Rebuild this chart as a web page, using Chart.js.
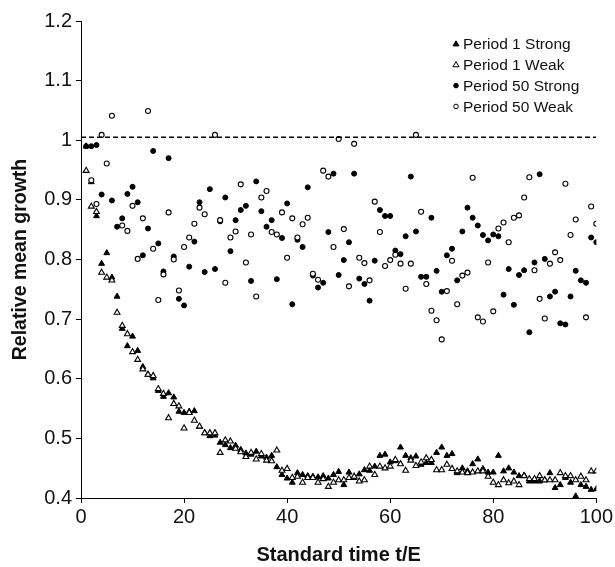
<!DOCTYPE html>
<html>
<head>
<meta charset="utf-8">
<script src="https://cdn.jsdelivr.net/npm/chart.js@4.4.0/dist/chart.umd.min.js"></script>
<style>
  body { margin: 0; background: #fff; }
</style>
</head>
<body>
<canvas id="crecimiento" width="615" height="567"></canvas>
<script>
// tiempo estandar t/E
const tiempos = [
  1, 2, 3, 4, 5, 6, 7, 8, 9, 10, 11, 12, 13, 14, 15, 16, 17, 18, 19, 20,
  21, 22, 23, 24, 25, 26, 27, 28, 29, 30, 31, 32, 33, 34, 35, 36, 37, 38, 39, 40,
  41, 42, 43, 44, 45, 46, 47, 48, 49, 50, 51, 52, 53, 54, 55, 56, 57, 58, 59, 60,
  61, 62, 63, 64, 65, 66, 67, 68, 69, 70, 71, 72, 73, 74, 75, 76, 77, 78, 79, 80,
  81, 82, 83, 84, 85, 86, 87, 88, 89, 90, 91, 92, 93, 94, 95, 96, 97, 98, 99, 100
];

const periodo1Fuerte = [
  0.990, 0.930, 0.873, 0.793, 0.811, 0.770, 0.738, 0.684, 0.655, 0.671,
  0.647, 0.620, 0.607, 0.601, 0.580, 0.570, 0.576, 0.569, 0.545, 0.543,
  0.545, 0.546, 0.520, 0.509, 0.504, 0.505, 0.493, 0.489, 0.484, 0.488,
  0.481, 0.475, 0.473, 0.478, 0.470, 0.468, 0.471, 0.452, 0.439, 0.433,
  0.426, 0.442, 0.439, 0.437, 0.436, 0.435, 0.437, 0.433, 0.439, 0.444,
  0.422, 0.443, 0.434, 0.440, 0.447, 0.446, 0.453, 0.471, 0.473, 0.460,
  0.462, 0.485, 0.471, 0.467, 0.470, 0.456, 0.459, 0.459, 0.476, 0.485,
  0.471, 0.474, 0.442, 0.450, 0.445, 0.457, 0.465, 0.449, 0.443, 0.443,
  0.471, 0.445, 0.450, 0.443, 0.437, 0.438, 0.428, 0.428, 0.428, 0.430,
  0.442, 0.417, 0.422, 0.434, 0.426, 0.403, 0.422, 0.419, 0.414, 0.415
];

const periodo1Debil = [
  0.949, 0.889, 0.880, 0.778, 0.770, 0.765, 0.711, 0.689, 0.675, 0.645,
  0.632, 0.616, 0.607, 0.605, 0.583, 0.575, 0.534, 0.558, 0.554, 0.517,
  0.543, 0.530, 0.520, 0.509, 0.509, 0.509, 0.476, 0.497, 0.495, 0.483,
  0.477, 0.469, 0.476, 0.465, 0.474, 0.463, 0.462, 0.480, 0.446, 0.449,
  0.434, 0.436, 0.426, 0.434, 0.434, 0.426, 0.432, 0.419, 0.426, 0.430,
  0.430, 0.434, 0.436, 0.428, 0.430, 0.453, 0.439, 0.453, 0.450, 0.453,
  0.464, 0.457, 0.446, 0.463, 0.454, 0.460, 0.467, 0.464, 0.447, 0.447,
  0.456, 0.449, 0.445, 0.443, 0.442, 0.443, 0.445, 0.445, 0.436, 0.426,
  0.422, 0.430, 0.425, 0.428, 0.422, 0.437, 0.432, 0.432, 0.437, 0.430,
  0.430, 0.430, 0.442, 0.437, 0.437, 0.430, 0.436, 0.430, 0.445, 0.445
];

const periodo50Fuerte = [
  0.990, 0.990, 0.992, 0.909, null,  0.899, 0.855, 0.869, 0.910, 0.922,
  0.896, 0.807, 0.852, 0.982, 0.827, 0.780, 0.970, 0.805, 0.734, 0.723,
  0.788, 0.830, 0.896, 0.779, 0.918, 0.784, 0.864, 0.904, 0.814, 0.866,
  0.883, 0.890, 0.764, 0.931, 0.881, 0.855, 0.866, 0.767, 0.836, 0.894,
  0.725, 0.833, 0.821, 0.921, 0.773, 0.753, 0.761, 0.846, 0.944, 0.774,
  0.799, 0.829, 0.944, 0.768, 0.759, 0.731, 0.798, 0.883, 0.873, 0.873,
  0.815, 0.809, 0.839, 0.939, 0.847, 0.771, 0.771, 0.870, 0.781, 0.746,
  0.807, 0.818, 0.765, 0.847, 0.887, 0.870, 0.857, 0.841, 0.832, 0.842,
  0.839, 0.741, 0.784, 0.724, 0.774, 0.782, 0.678, 0.795, 0.943, 0.801,
  0.738, 0.746, 0.693, 0.691, 0.738, 0.781, 0.765, 0.761, 0.837, 0.829
];

const periodo50Debil = [
  null,  0.933, 0.893, 1.009, 0.961, 1.041, null,  0.857, 0.848, 0.890,
  0.801, 0.869, 1.049, 0.818, 0.732, 0.775, 0.879, 0.800, 0.748, 0.821,
  0.837, 0.860, 0.887, 0.876, null,  1.009, 0.866, 0.761, 0.837, 0.847,
  0.926, 0.795, 0.842, 0.738, 0.904, 0.915, 0.846, 0.842, 0.879, 0.803,
  0.869, 0.837, 0.859, 0.870, 0.776, 0.766, 0.949, 0.939, 0.821, 1.002,
  0.851, 0.755, 0.994, 0.803, 0.794, 0.765, 0.897, 0.846, 0.789, 0.799,
  0.808, 0.793, 0.751, 0.793, 1.009, 0.880, 0.759, 0.714, 0.698, 0.666,
  0.747, 0.798, 0.725, 0.773, 0.778, 0.937, 0.703, 0.696, 0.795, 0.713,
  0.852, 0.862, 0.829, 0.870, 0.874, 0.904, 0.938, 0.782, 0.734, 0.701,
  0.793, 0.812, 0.799, 0.927, 0.841, 0.867, null,  0.703, 0.889, 0.860
];

// linea de referencia (discontinua)
const nivelReferencia = 1.005;
const extremosX = [0, 100];

const etiquetasX = ['0', '20', '40', '60', '80', '100'];
const etiquetasY = ['0.4', '0.5', '0.6', '0.7', '0.8', '0.9', '1', '1.1', '1.2'];
const nombresSeries = ['Period 1 Strong', 'Period 1 Weak', 'Period 50 Strong', 'Period 50 Weak'];

function puntos(valores) {
  const out = [];
  valores.forEach((v, i) => {
    if (v !== null) out.push({ x: tiempos[i], y: v });
  });
  return out;
}

const fuente = '"Liberation Sans", Arial, Helvetica, sans-serif';

// leyenda dibujada dentro del area (arriba a la derecha)
const leyendaPlugin = {
  id: 'leyendaInterna',
  afterDraw(chart) {
    const ctx = chart.ctx;
    ctx.save();
    ctx.font = '15.5px ' + fuente;
    ctx.textBaseline = 'middle';
    ctx.textAlign = 'left';
    let fila = 0;
    chart.data.datasets.forEach((ds) => {
      if (!ds.enLeyenda) return;
      const y = 44 + fila * 20.8;
      const x = 456;
      ctx.lineWidth = 1;
      ctx.strokeStyle = '#000';
      ctx.fillStyle = ds.backgroundColor;
      ctx.beginPath();
      if (ds.pointStyle === 'triangle') {
        const r = 3.2;
        ctx.moveTo(x, y - r);
        ctx.lineTo(x + r * 0.95, y + r * 0.6);
        ctx.lineTo(x - r * 0.95, y + r * 0.6);
        ctx.closePath();
      } else {
        ctx.arc(x, y, 2.3, 0, Math.PI * 2);
      }
      ctx.fill();
      ctx.stroke();
      ctx.fillStyle = '#111';
      ctx.fillText(ds.label, 463, y + 1);
      fila++;
    });
    ctx.restore();
  }
};

const ctx = document.getElementById('crecimiento').getContext('2d');
new Chart(ctx, {
  type: 'scatter',
  data: {
    datasets: [
      {
        label: nombresSeries[0],
        data: puntos(periodo1Fuerte),
        pointStyle: 'triangle',
        pointRadius: 3.4,
        backgroundColor: '#000',
        borderColor: '#000',
        borderWidth: 1,
        enLeyenda: true,
        order: 4
      },
      {
        label: nombresSeries[1],
        data: puntos(periodo1Debil),
        pointStyle: 'triangle',
        pointRadius: 3.4,
        backgroundColor: '#fff',
        borderColor: '#000',
        borderWidth: 1.1,
        enLeyenda: true,
        order: 3
      },
      {
        label: nombresSeries[2],
        data: puntos(periodo50Fuerte),
        pointStyle: 'circle',
        pointRadius: 2.5,
        backgroundColor: '#000',
        borderColor: '#000',
        borderWidth: 1,
        enLeyenda: true,
        order: 2
      },
      {
        label: nombresSeries[3],
        data: puntos(periodo50Debil),
        pointStyle: 'circle',
        pointRadius: 2.5,
        backgroundColor: '#fff',
        borderColor: '#000',
        borderWidth: 1.1,
        enLeyenda: true,
        order: 1
      },
      {
        type: 'line',
        label: 'referencia',
        data: extremosX.map(x => ({ x: x, y: nivelReferencia })),
        borderColor: '#000',
        borderWidth: 1.6,
        borderDash: [5, 3],
        pointRadius: 0,
        fill: false,
        enLeyenda: false,
        order: 0
      }
    ]
  },
  options: {
    responsive: false,
    animation: false,
    layout: { padding: { top: 21, right: 18, left: 0, bottom: 0 } },
    plugins: {
      legend: { display: false },
      tooltip: { enabled: false }
    },
    scales: {
      x: {
        type: 'linear',
        min: 0,
        max: 100,
        ticks: {
          stepSize: 20,
          color: '#111',
          font: { family: fuente, size: 20 },
          padding: 2,
          maxRotation: 0,
          callback: (v) => etiquetasX[Math.round(v / 20)]
        },
        grid: { display: true, drawOnChartArea: false, drawTicks: true, tickLength: 5, color: '#000' },
        border: { display: true, color: '#000', width: 1 },
        title: {
          display: true,
          text: 'Standard time t/E',
          color: '#111',
          font: { family: fuente, size: 20, weight: 'bold' },
          padding: { top: 14, bottom: 0 }
        },
        afterFit: (scale) => { scale.height = 69; }
      },
      y: {
        type: 'linear',
        min: 0.4,
        max: 1.2,
        ticks: {
          stepSize: 0.1,
          color: '#111',
          font: { family: fuente, size: 20 },
          padding: 4,
          callback: (v) => etiquetasY[Math.round((v - 0.4) * 10)]
        },
        grid: { display: true, drawOnChartArea: false, drawTicks: true, tickLength: 5, color: '#000' },
        border: { display: true, color: '#000', width: 1 },
        title: {
          display: true,
          text: 'Relative mean growth',
          color: '#111',
          font: { family: fuente, size: 19.5, weight: 'bold' },
          padding: { top: 9, bottom: 0 }
        },
        afterFit: (scale) => { scale.width = 81; }
      }
    }
  },
  plugins: [leyendaPlugin]
});
</script>
</body>
</html>
